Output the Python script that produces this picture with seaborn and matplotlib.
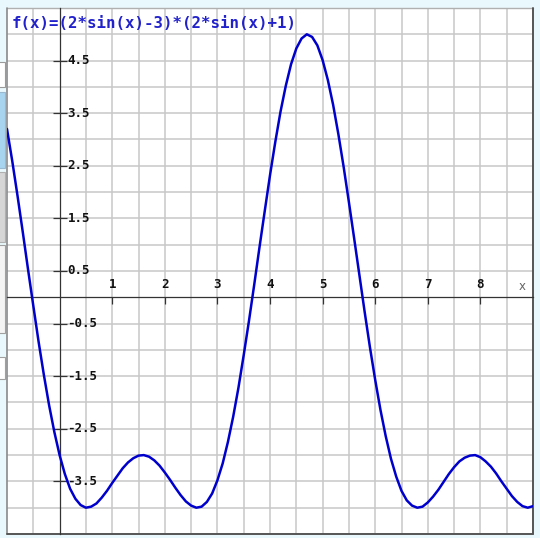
import matplotlib
matplotlib.use("Agg")
import matplotlib.pyplot as plt
import matplotlib.transforms as mtransforms
from matplotlib.patches import Rectangle
from matplotlib.lines import Line2D
import seaborn as sns

# ── Data ─────────────────────────────────────────────────────
TITLE = "f(x)=(2*sin(x)-3)*(2*sin(x)+1)"

x_vals = [-1.0, -0.9, -0.8, -0.7, -0.6, -0.5, -0.4, -0.3, -0.2, -0.1,
          0.0, 0.1, 0.2, 0.3, 0.4, 0.5, 0.6, 0.7, 0.8, 0.9,
          1.0, 1.1, 1.2, 1.3, 1.4, 1.5, 1.6, 1.7, 1.8, 1.9,
          2.0, 2.1, 2.2, 2.3, 2.4, 2.5, 2.6, 2.7, 2.8, 2.9,
          3.0, 3.1, 3.2, 3.3, 3.4, 3.5, 3.6, 3.7, 3.8, 3.9,
          4.0, 4.1, 4.2, 4.3, 4.4, 4.5, 4.6, 4.7, 4.8, 4.9,
          5.0, 5.1, 5.2, 5.3, 5.4, 5.5, 5.6, 5.7, 5.8, 5.9,
          6.0, 6.1, 6.2, 6.3, 6.4, 6.5, 6.6, 6.7, 6.8, 6.9,
          7.0, 7.1, 7.2, 7.3, 7.4, 7.5, 7.6, 7.7, 7.8, 7.9,
          8.0, 8.1, 8.2, 8.3, 8.4, 8.5, 8.6, 8.7, 8.8, 8.9,
          9.0]

y_vals = [3.20, 2.59, 1.93, 1.24, 0.53, -0.16, -0.84, -1.47, -2.05, -2.56,
          -3.00, -3.36, -3.64, -3.83, -3.95, -4.00, -3.98, -3.92, -3.81, -3.68,
          -3.53, -3.39, -3.25, -3.14, -3.06, -3.01, -3.00, -3.03, -3.10, -3.20,
          -3.33, -3.47, -3.62, -3.76, -3.88, -3.96, -4.00, -3.98, -3.89, -3.73,
          -3.48, -3.16, -2.75, -2.27, -1.72, -1.10, -0.45, 0.24, 0.95, 1.64,
          2.32, 2.95, 3.53, 4.02, 4.43, 4.73, 4.92, 5.00, 4.95, 4.79,
          4.51, 4.13, 3.66, 3.10, 2.48, 1.81, 1.12, 0.42, -0.28, -0.95,
          -1.57, -2.14, -2.64, -3.07, -3.41, -3.68, -3.86, -3.96, -4.00, -3.98,
          -3.90, -3.79, -3.66, -3.51, -3.36, -3.23, -3.12, -3.05, -3.01, -3.00,
          -3.04, -3.12, -3.22, -3.35, -3.50, -3.64, -3.78, -3.89, -3.97, -4.00,
          -3.97]

x_ticks = [1, 2, 3, 4, 5, 6, 7, 8]
y_ticks = [4.5, 3.5, 2.5, 1.5, 0.5, -0.5, -1.5, -2.5, -3.5]
x_grid = [-0.5, 0.5, 1.5, 2.5, 3.5, 4.5, 5.5, 6.5, 7.5, 8.5]
y_grid = [-4.0, -3.0, -2.0, -1.0, 1.0, 2.0, 3.0, 4.0, 5.0]

# ── Style ────────────────────────────────────────────────────
sns.set_style("white")
plt.rcParams["font.family"] = ["DejaVu Sans"]

BG = "#E9F8FC"
CURVE = "#0000CC"
GRID = "#C8C8C8"
AXIS = "#333333"
MONO = "DejaVu Sans Mono"

fig = plt.figure(figsize=(5.4, 5.38), dpi=100, facecolor=BG)
W, H = 540, 538
ax = fig.add_axes([7 / W, (H - 534) / H, 526 / W, 526 / H])
ax.set_facecolor("white")

# ── Curve ────────────────────────────────────────────────────
sns.lineplot(x=x_vals, y=y_vals, ax=ax, color=CURVE, linewidth=1.8,
             sort=False, zorder=3)

ax.set_xlim(-1, 9)
ax.set_ylim(-4.5, 5.5)

# axes through the origin
for side in ["top", "right"]:
    ax.spines[side].set_visible(False)
ax.spines["left"].set_position(("data", 0))
ax.spines["bottom"].set_position(("data", 0))
for side in ["left", "bottom"]:
    ax.spines[side].set_color(AXIS)
    ax.spines[side].set_linewidth(0.9)

ax.set_xticks(x_ticks)
ax.set_yticks(y_ticks)
ax.set_xticklabels([])
ax.set_yticklabels([])

# grid every half unit: major ticks + the minor ones between them
ax.set_xticks(x_grid, minor=True)
ax.set_yticks(y_grid, minor=True)
ax.grid(which="both", color=GRID, linewidth=1.1)
ax.set_axisbelow(True)

ax.tick_params(which="minor", length=0, bottom=False, left=False)
ax.tick_params(axis="x", which="major", bottom=True, direction="out",
               length=5, width=0.9, color=AXIS)
ax.tick_params(axis="y", which="major", left=True, direction="inout",
               length=9.5, width=0.9, color=AXIS)

# tick labels: x above the axis, y right of the axis
above = mtransforms.offset_copy(ax.transData, fig=fig, x=0, y=13, units="dots")
right = mtransforms.offset_copy(ax.transData, fig=fig, x=8, y=0, units="dots")
for xv in x_ticks:
    ax.text(xv, 0, str(xv), transform=above, ha="center", va="center",
            fontsize=9, fontweight="bold", family=MONO, color="#111111")
for yv in y_ticks:
    ax.text(0, yv, f"{yv:.1f}", transform=right, ha="left", va="center",
            fontsize=9, fontweight="bold", family=MONO, color="#111111")
ax.text(8.79, 0.2, "x", ha="center", va="center", fontsize=8.5,
        color="#666666")

# title inside the plot
ax.text(0.0095, 0.971, TITLE, transform=ax.transAxes, ha="left",
        va="center", fontsize=11.3, fontweight="bold", family=MONO,
        color="#2222CC")

# frame
ax.add_line(Line2D([0, 1], [1, 1], transform=ax.transAxes, color="#B0B0B0",
                   linewidth=1, clip_on=False))
ax.add_line(Line2D([0, 0], [0, 1], transform=ax.transAxes, color="#8A8A8A",
                   linewidth=1.2, clip_on=False))
ax.add_line(Line2D([0, 1], [0, 0], transform=ax.transAxes, color="#555555",
                   linewidth=1.4, clip_on=False))
ax.add_line(Line2D([1, 1], [0, 1], transform=ax.transAxes, color="#555555",
                   linewidth=1.4, clip_on=False))


# small window widgets peeking in at the left edge
def px_rect(x0, y0, w, h, fc, ec):
    fig.patches.append(Rectangle((x0 / W, 1 - (y0 + h) / H), w / W, h / H,
                                 transform=fig.transFigure, facecolor=fc,
                                 edgecolor=ec, linewidth=0.8))


px_rect(-2, 62, 7, 25, "white", "#9A9A9A")
px_rect(-2, 92, 7, 76, "#A8D4F0", "#9AB8D0")
px_rect(-2, 172, 7, 70, "#D6D6D6", "#B0B0B0")
px_rect(-2, 245, 7, 88, "#F4F4F4", "#A0A0A0")
px_rect(-2, 357, 7, 22, "white", "#A0A0A0")

fig.savefig("out.png", dpi=100, facecolor=BG)
